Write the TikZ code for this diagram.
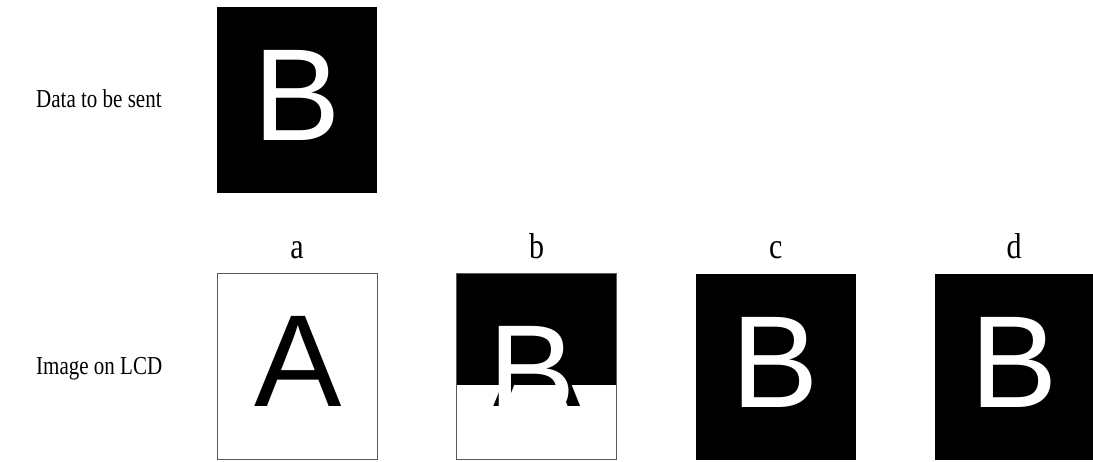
\documentclass[tikz,border=0pt]{standalone}
\usepackage{fontspec}
\setmainfont{Liberation Serif}
\newfontfamily\lcdfont{Liberation Sans}
\begin{document}
\begin{tikzpicture}[x=1pt,y=-1pt,
  lbl/.style={inner sep=0pt,anchor=base west,font=\fontsize{21}{21}\selectfont},
  tag/.style={inner sep=0pt,anchor=base,font=\fontsize{30}{30}\selectfont},
  glyph/.style={inner sep=0pt,anchor=base,font=\lcdfont\fontsize{131}{131}\selectfont},
  frame/.style={draw=black!65,line width=0.8pt}]
\useasboundingbox (0,0) rectangle (1093,461);
% data to be sent
\node[lbl] (sent) at (36,107) {\scalebox{1}[1.23]{Data to be sent}};
\fill (217,7) rectangle (377,193);
\node[glyph,white] (sentB) at (296.7,140) {B};
% image on LCD
\node[lbl] (lcd) at (36,374) {\scalebox{1}[1.23]{Image on LCD}};
\foreach \t/\x in {a/297,b/536.7,c/775.7,d/1014}
  \node[tag] (tag\t) at (\x,258) {\scalebox{1}[1.2]{\t}};
% a
\node[glyph] (imgA) at (298.5,406.7) {A};
\draw[frame] (217.7,273.5) rectangle (377.3,459.5);
% b, half old half new
\node[glyph] (tornA) at (537.5,406.7) {A};
\fill (456.7,273.5) rectangle (616.7,385);
\node[glyph,white] (tornB) at (532.5,416) {B};
\draw[frame] (456.7,273.5) rectangle (616.7,459.5);
% c
\fill (695.7,274) rectangle (855.7,460);
\node[glyph,white] (imgC) at (775,407.7) {B};
% d
\fill (935,274) rectangle (1093,460);
\node[glyph,white] (imgD) at (1014.2,407.7) {B};
\end{tikzpicture}
\end{document}
